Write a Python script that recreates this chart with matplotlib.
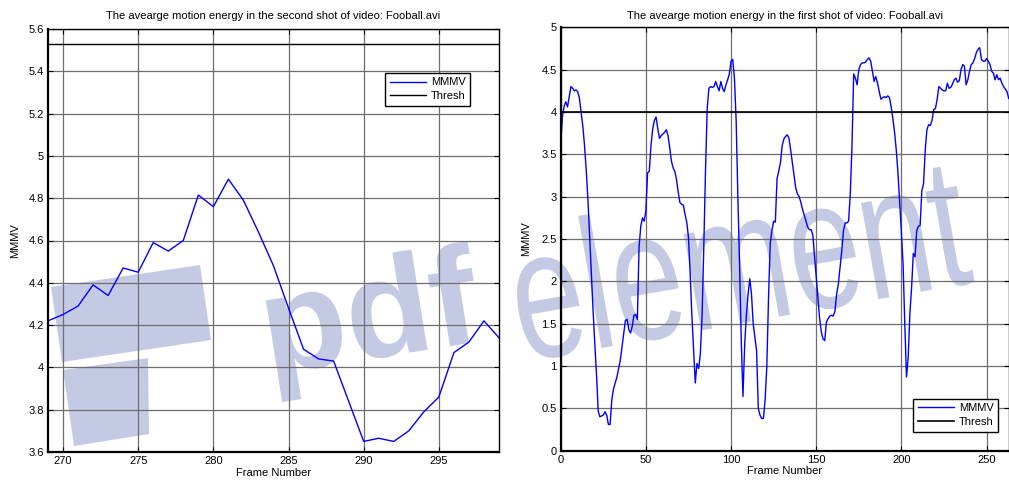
import matplotlib
matplotlib.use("Agg")
import matplotlib.pyplot as plt
import numpy as np
from matplotlib.ticker import FuncFormatter
from matplotlib.textpath import TextPath
from matplotlib.font_manager import FontProperties
from matplotlib.patches import PathPatch, Polygon
from matplotlib.transforms import Affine2D

plt.rcParams['font.family'] = ['Liberation Sans', 'DejaVu Sans']

# ---- data: second shot (left) ----
left_frames = list(range(269, 300))
left_mmmv = [4.22, 4.25, 4.29, 4.39, 4.34, 4.47, 4.45, 4.59, 4.55, 4.60,
             4.815, 4.76, 4.89, 4.79, 4.64, 4.48, 4.28, 4.086, 4.04, 4.03,
             3.84, 3.65, 3.665, 3.65, 3.70, 3.79, 3.86, 4.07, 4.12, 4.22, 4.14]
left_thresh = 5.53

# ---- data: first shot (right) ----
right_mmmv = [
    3.61, 3.94, 4.07, 4.12, 4.06, 4.18, 4.30, 4.28, 4.25, 4.26,
    4.24, 4.16, 4.00, 3.83, 3.60, 3.31, 2.96, 2.53, 2.09, 1.66,
    1.27, 0.91, 0.47, 0.40, 0.41, 0.42, 0.46, 0.42, 0.31, 0.31,
    0.60, 0.73, 0.80, 0.87, 0.97, 1.07, 1.23, 1.39, 1.54, 1.55,
    1.43, 1.39, 1.47, 1.60, 1.61, 1.55, 2.40, 2.65, 2.75, 2.71,
    2.83, 3.28, 3.30, 3.60, 3.80, 3.90, 3.94, 3.80, 3.69, 3.72,
    3.74, 3.76, 3.79, 3.72, 3.58, 3.42, 3.34, 3.30, 3.20, 3.05,
    2.93, 2.91, 2.90, 2.79, 2.70, 2.52, 2.10, 1.60, 1.20, 0.80,
    1.03, 0.97, 1.15, 1.60, 2.40, 3.30, 4.04, 4.28, 4.30, 4.29,
    4.30, 4.36, 4.30, 4.25, 4.36, 4.28, 4.24, 4.32, 4.38, 4.45,
    4.60, 4.62, 4.40, 3.90, 3.00, 2.20, 1.30, 0.64, 1.25, 1.60,
    1.85, 2.03, 1.85, 1.50, 1.34, 1.18, 0.50, 0.42, 0.38, 0.38,
    0.60, 0.99, 1.80, 2.45, 2.60, 2.71, 2.70, 3.21, 3.30, 3.40,
    3.60, 3.68, 3.71, 3.73, 3.69, 3.55, 3.40, 3.25, 3.10, 3.03,
    3.00, 2.93, 2.85, 2.78, 2.71, 2.64, 2.61, 2.61, 2.55, 2.30,
    2.05, 1.80, 1.56, 1.40, 1.32, 1.30, 1.52, 1.56, 1.59, 1.60,
    1.59, 1.65, 1.85, 1.97, 2.17, 2.36, 2.60, 2.69, 2.69, 2.71,
    3.03, 3.60, 4.45, 4.40, 4.32, 4.50, 4.56, 4.58, 4.58, 4.59,
    4.62, 4.64, 4.60, 4.48, 4.36, 4.42, 4.34, 4.24, 4.15, 4.17,
    4.18, 4.17, 4.19, 4.17, 4.06, 3.92, 3.76, 3.55, 3.28, 2.93,
    2.58, 2.20, 1.50, 0.87, 1.10, 1.62, 1.93, 2.33, 2.29, 2.60,
    2.65, 2.66, 3.07, 3.15, 3.55, 3.79, 3.85, 3.84, 3.90, 4.03,
    4.04, 4.15, 4.30, 4.28, 4.26, 4.25, 4.25, 4.34, 4.28, 4.29,
    4.33, 4.38, 4.40, 4.35, 4.37, 4.50, 4.56, 4.54, 4.32, 4.38,
    4.48, 4.56, 4.58, 4.63, 4.70, 4.74, 4.76, 4.62, 4.60, 4.60,
    4.63, 4.60, 4.56, 4.48, 4.46, 4.38, 4.44, 4.38, 4.40, 4.34,
    4.30, 4.27, 4.24, 4.16]
right_frames = list(range(len(right_mmmv)))
right_thresh = 4.0

left_title = "The avearge motion energy in the second shot of video: Fooball.avi"
right_title = "The avearge motion energy in the first shot of video: Fooball.avi"

W, H = 1009, 484
fig = plt.figure(figsize=(W / 100, H / 100), dpi=100)
fig.patch.set_facecolor('white')

# ---- watermark (drawn beneath axes) ----
wm_color = '#c5cae4'

def px_poly(pts):
    return [(x / W, 1 - y / H) for x, y in pts]

fig.patches.append(Polygon(px_poly([(51, 287), (200, 265), (211, 340), (62, 362)]),
                           closed=True, transform=fig.transFigure, facecolor=wm_color,
                           edgecolor='none', zorder=-5))
fig.patches.append(Polygon(px_poly([(63, 370), (148, 358), (149, 434), (74, 446)]),
                           closed=True, transform=fig.transFigure, facecolor=wm_color,
                           edgecolor='none', zorder=-5))

def word(txt, x, y, size, sx, ang, family, weight):
    tp = TextPath((0, 0), txt, size=size,
                  prop=FontProperties(family=family, weight=weight))
    tr = Affine2D().scale(sx, 1.0).rotate_deg(ang).translate(x, H - y)
    p = tr.transform_path(tp)
    patch = PathPatch(p, facecolor=wm_color, edgecolor='none', zorder=-5,
                      transform=Affine2D().scale(1 / W, 1 / H) + fig.transFigure)
    fig.patches.append(patch)

word("pdf", 268, 375, 140, 1.0, 9, 'Liberation Sans', 'bold')
word("element", 522, 362, 185, 0.70, 10, 'Liberation Sans', 'normal')

# ---- axes ----
axL = fig.add_axes([48 / W, (H - 452) / H, 451 / W, 423 / H])
axR = fig.add_axes([560.7 / W, (H - 450.7) / H, 448 / W, 423.4 / H])

fmt = FuncFormatter(lambda v, p: ('%g' % round(v, 3)))

for ax in (axL, axR):
    ax.set_facecolor('none')
    ax.grid(True, color='#6e6e6e', linewidth=0.9, linestyle='-')
    ax.set_axisbelow(True)
    ax.tick_params(direction='in', top=True, right=True, length=3.5, width=0.8,
                   labelsize=8, pad=3)
    ax.yaxis.set_major_formatter(fmt)
    ax.xaxis.set_major_formatter(fmt)
    for s in ('left', 'bottom'):
        ax.spines[s].set_linewidth(1.6)
    for s in ('top', 'right'):
        ax.spines[s].set_linewidth(1.0)

leg_kw = dict(fontsize=8, fancybox=False, edgecolor='black', framealpha=1,
              borderpad=0.4, handlelength=3.3, handletextpad=0.4,
              labelspacing=0.35, borderaxespad=0)

# left
axL.plot(left_frames, left_mmmv, color='#0000ff', lw=1.0, label='MMMV')
axL.axhline(left_thresh, color='black', lw=1.0, label='Thresh')
axL.set_xlim(269, 299)
axL.set_ylim(3.6, 5.6)
axL.set_xticks(np.arange(270, 300, 5))
axL.set_yticks(np.arange(3.6, 5.61, 0.2))
axL.set_title(left_title, fontsize=8, pad=7)
axL.set_xlabel('Frame Number', fontsize=8, labelpad=1)
axL.set_ylabel('MMMV', fontsize=8, labelpad=6)
legL = axL.legend(loc='upper right', bbox_to_anchor=(0.936, 0.896), **leg_kw)
legL.get_frame().set_linewidth(1.0)

# right
axR.plot(right_frames, right_mmmv, color='#0000ff', lw=1.0, label='MMMV')
axR.axhline(right_thresh, color='black', lw=1.2, label='Thresh')
axR.set_xlim(0, 263)
axR.set_ylim(0, 5)
axR.set_xticks(np.arange(0, 251, 50))
axR.set_yticks(np.arange(0, 5.01, 0.5))
axR.set_title(right_title, fontsize=8, pad=6)
axR.set_xlabel('Frame Number', fontsize=8, labelpad=1)
axR.set_ylabel('MMMV', fontsize=8, labelpad=7)
legR = axR.legend(loc='lower right', bbox_to_anchor=(0.976, 0.045), **leg_kw)
legR.get_frame().set_linewidth(1.0)

fig.savefig('out.png', dpi=100)
